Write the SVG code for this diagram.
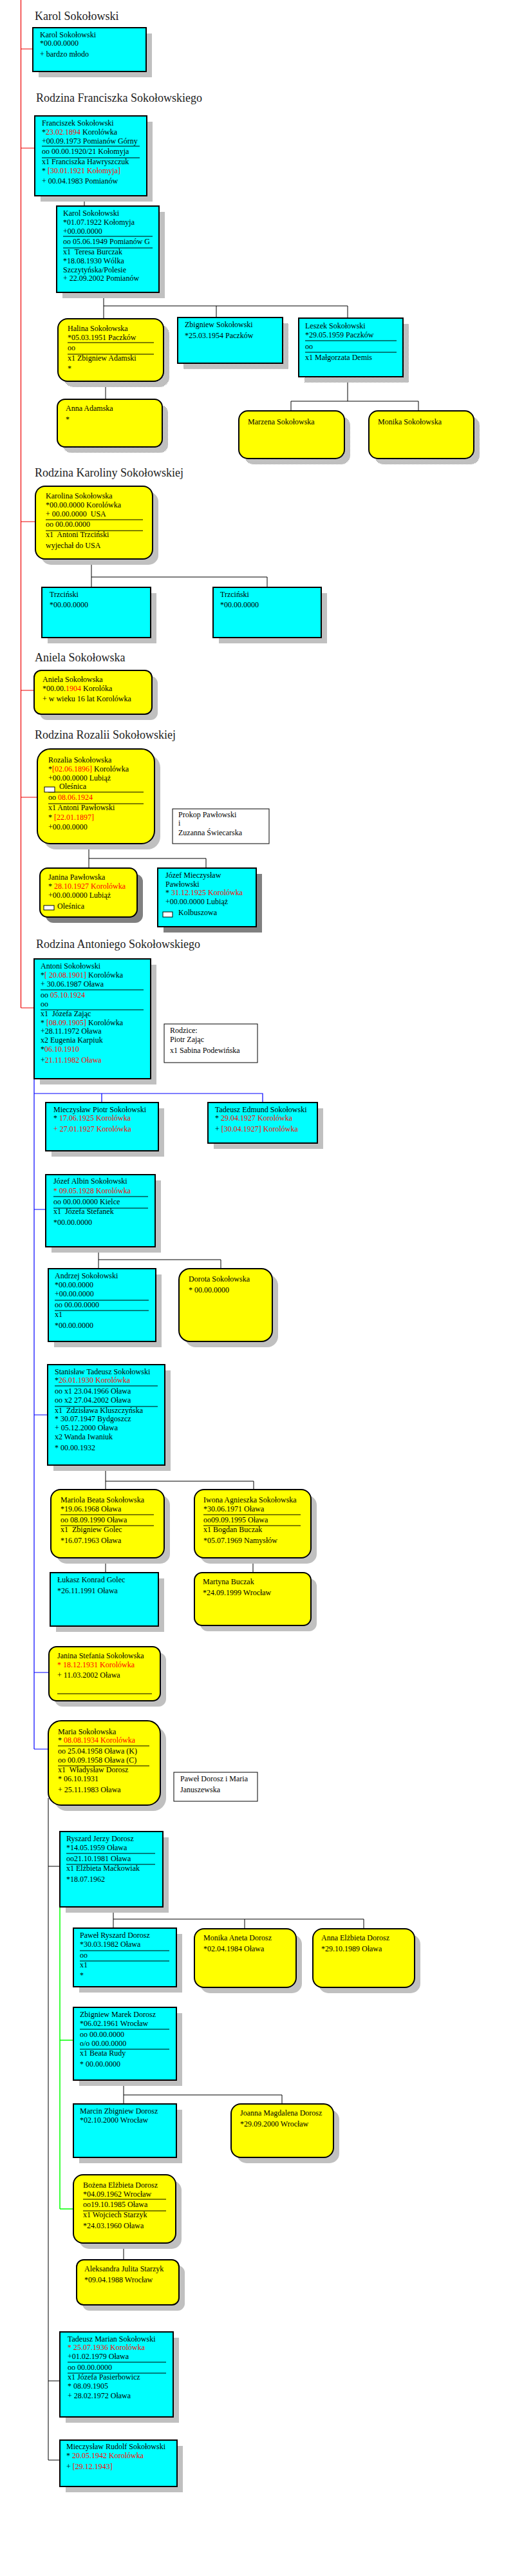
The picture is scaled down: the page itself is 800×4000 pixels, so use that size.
<svg xmlns="http://www.w3.org/2000/svg" width="800" height="4000" viewBox="0 0 800 4000">
<style>
text{font-family:"Liberation Serif","Times New Roman",serif;font-size:12px;fill:#000;white-space:pre}
.ttl{font-size:18px;fill:#222}
.r{fill:#f00}
.cy{fill:#0ff;stroke:#000;stroke-width:2}
.ye{fill:#ff0;stroke:#000;stroke-width:2}
.sh{fill:#c0c0c0}
.shd{fill:#808080}
.shp{fill:url(#dith)}
.note{fill:#fff;stroke:#000;stroke-width:1}
.sep{stroke:#000;stroke-width:1}
.ic{fill:#fff;stroke:#000;stroke-width:1}
.cb{stroke:#000;stroke-width:1;fill:none}
.cr{stroke:#e00;stroke-width:1.2;fill:none}
.cbl{stroke:#00f;stroke-width:1.2;fill:none}
.cg{stroke:#0f0;stroke-width:1.5;fill:none}
</style>
<defs>
<pattern id="dith" width="2" height="2" patternUnits="userSpaceOnUse"><rect width="2" height="2" fill="#fff"/><rect width="1" height="1" fill="#808080"/><rect x="1" y="1" width="1" height="1" fill="#808080"/></pattern>
</defs>
<rect width="800" height="4000" fill="#fff"/>

<g id="titles">
<text class="ttl" x="54" y="31">Karol Sokołowski</text>
<text class="ttl" x="56" y="158">Rodzina Franciszka Sokołowskiego</text>
<text class="ttl" x="54" y="740">Rodzina Karoliny Sokołowskiej</text>
<text class="ttl" x="54" y="1027">Aniela Sokołowska</text>
<text class="ttl" x="54" y="1147">Rodzina Rozalii Sokołowskiej</text>
<text class="ttl" x="56" y="1472">Rodzina Antoniego Sokołowskiego</text>
</g>

<g id="connectors">
<path class="cr" d="M32.5 0V1565M32.5 76H51M32.5 230H54M32.5 810H55M32.5 1072H53M32.5 1238H58M32.5 1565H53"/>
<path class="cb" d="M131 304V320M161 454V475M161 475H540M161 475V495M336 475V493M540 475V494M164 592V620M540 585V623M452 623H650M452 623V638M650 623V638"/>
<path class="cb" d="M142 868V896H415V912M142 896V912"/>
<path class="cb" d="M138 1310V1333H320V1348M138 1333V1348"/>
<path class="cbl" d="M53 1675V2716M53 1698H408V1712M158 1698V1712M53 1878H71M53 2197H74M53 2597H76M53 2716H75"/>
<path class="cb" d="M153 1936V1956H343V1970M153 1956V1970"/>
<path class="cb" d="M164 2275V2300H394V2313M164 2300V2313M164 2419V2442M393 2419V2442"/>
<path class="cb" d="M75 2792V3820M75 2898H93M75 3697H93M75 3820H93"/>
<path class="cb" d="M176 2961V2994M176 2980H565V2995M380 2980V2995"/>
<path class="cg" d="M93 2961V3430M93 3168H114M93 3430H114"/>
<path class="cb" d="M192 3230V3253H438V3267M192 3253V3267M192 3483V3509"/>
</g>

<g id="n-karol1">
<rect class="sh" x="60" y="52" width="176" height="68"/>
<rect class="cy" x="51" y="43" width="176" height="68"/>
<text x="62" y="58">Karol Sokołowski</text>
<text x="62" y="71">*00.00.0000</text>
<text x="62" y="88">+ bardzo młodo</text>
</g>

<g id="n-franciszek">
<rect class="sh" x="63" y="189" width="174" height="124"/>
<rect class="cy" x="54" y="180" width="174" height="124"/>
<path class="sep" d="M65 227H217M65 245H217"/>
<text x="65" y="195">Franciszek Sokołowski</text>
<text x="65" y="209">*<tspan class="r">23.02.1894</tspan> Korolówka</text>
<text x="65" y="223">+00.09.1973 Pomianów Górny</text>
<text x="65" y="239">oo 00.00.1920/21 Kołomyja</text>
<text x="65" y="255">x1 Franciszka Hawryszczuk</text>
<text x="65" y="269">* <tspan class="r">[30.01.1921 Kołomyja]</tspan></text>
<text x="65" y="285">+ 00.04.1983 Pomianów</text>
</g>

<g id="n-karol2">
<rect class="sh" x="97" y="329" width="159" height="134"/>
<rect class="cy" x="88" y="320" width="159" height="134"/>
<path class="sep" d="M98 367H237M98 385H237"/>
<text x="98" y="335">Karol Sokołowski</text>
<text x="98" y="349">*01.07.1922 Kołomyja</text>
<text x="98" y="363">+00.00.0000</text>
<text x="98" y="379">oo 05.06.1949 Pomianów G</text>
<text x="98" y="395">x1  Teresa Burczak</text>
<text x="98" y="409">*18.08.1930 Wólka</text>
<text x="98" y="423">Szczytyńska/Polesie</text>
<text x="98" y="436">+ 22.09.2002 Pomianów</text>
</g>

<g id="n-halina">
<rect class="shp" x="99" y="504" width="164" height="97" rx="15"/>
<rect class="ye" x="90" y="495" width="164" height="97" rx="15"/>
<path class="sep" d="M105 532H239M105 550H239"/>
<text x="105" y="514">Halina Sokołowska</text>
<text x="105" y="528">*05.03.1951 Paczków</text>
<text x="105" y="544">oo</text>
<text x="105" y="560">x1 Zbigniew Adamski</text>
<text x="105" y="576">*</text>
</g>

<g id="n-zbigniew">
<rect class="shp" x="285" y="502" width="163" height="71"/>
<rect class="cy" x="276" y="493" width="163" height="71"/>
<text x="287" y="508">Zbigniew Sokołowski</text>
<text x="287" y="525">*25.03.1954 Paczków</text>
</g>

<g id="n-leszek">
<rect class="shp" x="473" y="503" width="162" height="91"/>
<rect class="cy" x="464" y="494" width="162" height="91"/>
<path class="sep" d="M474 529H616M474 547H616"/>
<text x="474" y="510">Leszek Sokołowski</text>
<text x="474" y="524">*29.05.1959 Paczków</text>
<text x="474" y="542">oo</text>
<text x="474" y="559">x1 Małgorzata Demis</text>
</g>

<g id="n-anna-adamska">
<rect class="shp" x="98" y="629" width="163" height="74" rx="12"/>
<rect class="ye" x="89" y="620" width="163" height="74" rx="12"/>
<text x="102" y="638">Anna Adamska</text>
<text x="102" y="655">*</text>
</g>

<g id="n-marzena">
<rect class="shp" x="380" y="647" width="164" height="74" rx="14"/>
<rect class="ye" x="371" y="638" width="164" height="74" rx="14"/>
<text x="385" y="659">Marzena Sokołowska</text>
</g>

<g id="n-monika">
<rect class="shp" x="582" y="647" width="163" height="74" rx="14"/>
<rect class="ye" x="573" y="638" width="163" height="74" rx="14"/>
<text x="587" y="659">Monika Sokołowska</text>
</g>

<g id="n-karolina">
<rect class="sh" x="64" y="764" width="182" height="113" rx="15"/>
<rect class="ye" x="55" y="755" width="182" height="113" rx="15"/>
<path class="sep" d="M71 807H222M71 824H222"/>
<text x="71" y="774">Karolina Sokołowska</text>
<text x="71" y="788">*00.00.0000 Korolówka</text>
<text x="71" y="802">+ 00.00.0000  USA</text>
<text x="71" y="818">oo 00.00.0000</text>
<text x="71" y="834">x1  Antoni Trzciński</text>
<text x="71" y="851">wyjechał do USA</text>
</g>

<g id="n-trzcinski1">
<rect class="sh" x="74" y="921" width="169" height="78"/>
<rect class="cy" x="65" y="912" width="169" height="78"/>
<text x="77" y="927">Trzciński</text>
<text x="77" y="943">*00.00.0000</text>
</g>

<g id="n-trzcinski2">
<rect class="sh" x="340" y="921" width="168" height="78"/>
<rect class="cy" x="331" y="912" width="168" height="78"/>
<text x="342" y="927">Trzciński</text>
<text x="342" y="943">*00.00.0000</text>
</g>

<g id="n-aniela">
<rect class="sh" x="62" y="1050" width="183" height="68" rx="11"/>
<rect class="ye" x="53" y="1041" width="183" height="68" rx="11"/>
<text x="66" y="1059">Aniela Sokołowska</text>
<text x="66" y="1073">*00.00.<tspan class="r">1904</tspan> Korolóka</text>
<text x="66" y="1089">+ w wieku 16 lat Korolówka</text>
</g>

<g id="n-rozalia">
<rect class="sh" x="67" y="1172" width="182" height="147" rx="20"/>
<rect class="ye" x="58" y="1163" width="182" height="147" rx="20"/>
<path class="sep" d="M75 1230H223M75 1248H223"/>
<text x="75" y="1184">Rozalia Sokołowska</text>
<text x="75" y="1198">*<tspan class="r">[02.06.1896]</tspan> Korolówka</text>
<text x="75" y="1212">+00.00.0000 Lubiąż</text>
<rect class="ic" x="69" y="1222" width="16" height="8"/>
<text x="92" y="1225">Oleśnica</text>
<text x="75" y="1242">oo <tspan class="r">08.06.1924</tspan></text>
<text x="75" y="1258">x1 Antoni Pawłowski</text>
<text x="75" y="1273">* <tspan class="r">[22.01.1897]</tspan></text>
<text x="75" y="1288">+00.00.0000</text>
</g>

<g id="n-note-pawlowski">
<rect class="note" x="268" y="1256" width="150" height="54"/>
<text x="277" y="1269">Prokop Pawłowski</text>
<text x="277" y="1282">i</text>
<text x="277" y="1297">Zuzanna Świecarska</text>
</g>

<g id="n-janina-pawlowska">
<rect class="shd" x="71" y="1357" width="151" height="76" rx="12"/>
<rect class="ye" x="62" y="1348" width="151" height="76" rx="12"/>
<text x="75" y="1366">Janina Pawłowska</text>
<text x="75" y="1380">* <tspan class="r">28.10.1927 Korolówka</tspan></text>
<text x="75" y="1394">+00.00.0000 Lubiąż</text>
<rect class="ic" x="68" y="1406" width="16" height="7"/>
<text x="89" y="1411">Oleśnica</text>
</g>

<g id="n-jozef-mieczyslaw">
<rect class="shd" x="254" y="1357" width="153" height="91"/>
<rect class="cy" x="245" y="1348" width="153" height="91"/>
<text x="257" y="1363">Józef Mieczysław</text>
<text x="257" y="1377">Pawłowski</text>
<text x="257" y="1390">* <tspan class="r">31.12.1925 Korolówka</tspan></text>
<text x="257" y="1404">+00.00.0000 Lubiąż</text>
<rect class="ic" x="253" y="1416" width="15" height="8"/>
<text x="277" y="1421">Kolbuszowa</text>
</g>

<g id="n-antoni">
<rect class="sh" x="62" y="1498" width="181" height="186"/>
<rect class="cy" x="53" y="1489" width="181" height="186"/>
<path class="sep" d="M63 1537H223M63 1568H223"/>
<text x="63" y="1504">Antoni Sokołowski</text>
<text x="63" y="1518">*<tspan class="r">[ 20.08.1901]</tspan> Korolówka</text>
<text x="63" y="1532">+ 30.06.1987 Oława</text>
<text x="63" y="1549">oo <tspan class="r">05.10.1924</tspan></text>
<text x="63" y="1563">oo</text>
<text x="63" y="1578">x1  Józefa Zając</text>
<text x="63" y="1592">* <tspan class="r">[08.09.1905]</tspan> Korolówka</text>
<text x="63" y="1605">+28.11.1972 Oława</text>
<text x="63" y="1619">x2 Eugenia Karpiuk</text>
<text x="63" y="1633">*<tspan class="r">06.10.1910</tspan></text>
<text x="63" y="1650">+<tspan class="r">21.11.1982 Oława</tspan></text>
</g>

<g id="n-note-zajac">
<rect class="note" x="255" y="1590" width="145" height="60"/>
<text x="264" y="1604">Rodzice:</text>
<text x="264" y="1618">Piotr Zając</text>
<text x="264" y="1635">x1 Sabina Podewińska</text>
</g>

<g id="n-mieczyslaw-piotr">
<rect class="sh" x="80" y="1721" width="175" height="75"/>
<rect class="cy" x="71" y="1712" width="175" height="75"/>
<text x="83" y="1727">Mieczysław Piotr Sokołowski</text>
<text x="83" y="1740">* <tspan class="r">17.06.1925 Korolówka</tspan></text>
<text x="83" y="1757" class="r">+ 27.01.1927 Korolówka</text>
</g>

<g id="n-tadeusz-edmund">
<rect class="sh" x="332" y="1721" width="170" height="63"/>
<rect class="cy" x="323" y="1712" width="170" height="63"/>
<text x="334" y="1727">Tadeusz Edmund Sokołowski</text>
<text x="334" y="1740">* <tspan class="r">29.04.1927 Korolówka</tspan></text>
<text x="334" y="1757">+ <tspan class="r">[30.04.1927] Korolówka</tspan></text>
</g>

<g id="n-jozef-albin">
<rect class="sh" x="80" y="1833" width="170" height="112"/>
<rect class="cy" x="71" y="1824" width="170" height="112"/>
<path class="sep" d="M83 1858H230M83 1876H230"/>
<text x="83" y="1838">Józef Albin Sokołowski</text>
<text x="83" y="1853" class="r">* 09.05.1928 Korolówka</text>
<text x="83" y="1870">oo 00.00.0000 Kielce</text>
<text x="83" y="1885">x1  Józefa Stefanek</text>
<text x="83" y="1902">*00.00.0000</text>
</g>

<g id="n-andrzej">
<rect class="sh" x="84" y="1979" width="167" height="113"/>
<rect class="cy" x="75" y="1970" width="167" height="113"/>
<path class="sep" d="M85 2019H231M85 2035H231"/>
<text x="85" y="1985">Andrzej Sokołowski</text>
<text x="85" y="1999">*00.00.0000</text>
<text x="85" y="2013">+00.00.0000</text>
<text x="85" y="2030">oo 00.00.0000</text>
<text x="85" y="2045">x1</text>
<text x="85" y="2062">*00.00.0000</text>
</g>

<g id="n-dorota">
<rect class="sh" x="287" y="1979" width="145" height="113" rx="17"/>
<rect class="ye" x="278" y="1970" width="145" height="113" rx="17"/>
<text x="293" y="1990">Dorota Sokołowska</text>
<text x="293" y="2007">* 00.00.0000</text>
</g>

<g id="n-stanislaw">
<rect class="sh" x="83" y="2128" width="182" height="156"/>
<rect class="cy" x="74" y="2119" width="182" height="156"/>
<path class="sep" d="M85 2152H245M85 2184H245"/>
<text x="85" y="2134">Stanisław Tadeusz Sokołowski</text>
<text x="85" y="2147">*<tspan class="r">26.01.1930 Korolówka</tspan></text>
<text x="85" y="2164">oo x1 23.04.1966 Oława</text>
<text x="85" y="2178">oo x2 27.04.2002 Oława</text>
<text x="85" y="2194">x1  Zdzisława Kluszczyńska</text>
<text x="85" y="2207">* 30.07.1947 Bydgoszcz</text>
<text x="85" y="2221">+ 05.12.2000 Oława</text>
<text x="85" y="2235">x2 Wanda Iwaniuk</text>
<text x="85" y="2252">* 00.00.1932</text>
</g>

<g id="n-mariola">
<rect class="sh" x="88" y="2322" width="176" height="106" rx="15"/>
<rect class="ye" x="79" y="2313" width="176" height="106" rx="15"/>
<path class="sep" d="M94 2352H239M94 2369H239"/>
<text x="94" y="2333">Mariola Beata Sokołowska</text>
<text x="94" y="2347">*19.06.1968 Oława</text>
<text x="94" y="2364">oo 08.09.1990 Oława</text>
<text x="94" y="2379">x1  Zbigniew Golec</text>
<text x="94" y="2396">*16.07.1963 Oława</text>
</g>

<g id="n-iwona">
<rect class="sh" x="311" y="2322" width="181" height="106" rx="15"/>
<rect class="ye" x="302" y="2313" width="181" height="106" rx="15"/>
<path class="sep" d="M316 2352H467M316 2369H467"/>
<text x="316" y="2333">Iwona Agnieszka Sokołowska</text>
<text x="316" y="2347">*30.06.1971 Oława</text>
<text x="316" y="2364">oo09.09.1995 Oława</text>
<text x="316" y="2379">x1 Bogdan Buczak</text>
<text x="316" y="2396">*05.07.1969 Namysłów</text>
</g>

<g id="n-lukasz">
<rect class="sh" x="87" y="2451" width="168" height="83"/>
<rect class="cy" x="78" y="2442" width="168" height="83"/>
<text x="89" y="2457">Łukasz Konrad Golec</text>
<text x="89" y="2474">*26.11.1991 Oława</text>
</g>

<g id="n-martyna">
<rect class="sh" x="311" y="2451" width="181" height="82" rx="12"/>
<rect class="ye" x="302" y="2442" width="181" height="82" rx="12"/>
<text x="315" y="2460">Martyna Buczak</text>
<text x="315" y="2477">*24.09.1999 Wrocław</text>
</g>

<g id="n-janina-stefania">
<rect class="sh" x="85" y="2566" width="173" height="84" rx="12"/>
<rect class="ye" x="76" y="2557" width="173" height="84" rx="12"/>
<path class="sep" d="M89 2630H236"/>
<text x="89" y="2575">Janina Stefania Sokołowska</text>
<text x="89" y="2589" class="r">* 18.12.1931 Korolówka</text>
<text x="89" y="2605">+ 11.03.2002 Oława</text>
</g>

<g id="n-maria">
<rect class="sh" x="84" y="2681" width="174" height="131" rx="20"/>
<rect class="ye" x="75" y="2672" width="174" height="131" rx="20"/>
<path class="sep" d="M90 2711H232M90 2742H232"/>
<text x="90" y="2693">Maria Sokołowska</text>
<text x="90" y="2706">* <tspan class="r">08.08.1934 Korolówka</tspan></text>
<text x="90" y="2723">oo 25.04.1958 Oława (K)</text>
<text x="90" y="2737">oo 00.09.1958 Oława (C)</text>
<text x="90" y="2752">x1  Władysław Dorosz</text>
<text x="90" y="2766">* 06.10.1931</text>
<text x="90" y="2783">+ 25.11.1983 Oława</text>
</g>

<g id="n-note-dorosz">
<rect class="note" x="270" y="2752" width="130" height="45"/>
<text x="280" y="2766">Paweł Dorosz i Maria</text>
<text x="280" y="2783">Januszewska</text>
</g>

<g id="n-ryszard">
<rect class="sh" x="102" y="2853" width="160" height="117"/>
<rect class="cy" x="93" y="2844" width="160" height="117"/>
<path class="sep" d="M103 2878H241M103 2895H241"/>
<text x="103" y="2859">Ryszard Jerzy Dorosz</text>
<text x="103" y="2873">*14.05.1959 Oława</text>
<text x="103" y="2890">oo21.10.1981 Oława</text>
<text x="103" y="2905">x1 Elżbieta Maćkowiak</text>
<text x="103" y="2922">*18.07.1962</text>
</g>

<g id="n-pawel">
<rect class="sh" x="123" y="3003" width="160" height="91"/>
<rect class="cy" x="114" y="2994" width="160" height="91"/>
<path class="sep" d="M124 3029H263M124 3045H263"/>
<text x="124" y="3009">Paweł Ryszard Dorosz</text>
<text x="124" y="3023">*30.03.1982 Oława</text>
<text x="124" y="3040">oo</text>
<text x="124" y="3055">x1</text>
<text x="124" y="3071">*</text>
</g>

<g id="n-monika-aneta">
<rect class="sh" x="311" y="3004" width="158" height="91" rx="15"/>
<rect class="ye" x="302" y="2995" width="158" height="91" rx="15"/>
<text x="316" y="3013">Monika Aneta Dorosz</text>
<text x="316" y="3030">*02.04.1984 Oława</text>
</g>

<g id="n-anna-elzbieta">
<rect class="sh" x="495" y="3004" width="158" height="91" rx="15"/>
<rect class="ye" x="486" y="2995" width="158" height="91" rx="15"/>
<text x="499" y="3013">Anna Elżbieta Dorosz</text>
<text x="499" y="3030">*29.10.1989 Oława</text>
</g>

<g id="n-zbigniew-marek">
<rect class="sh" x="123" y="3126" width="160" height="113"/>
<rect class="cy" x="114" y="3117" width="160" height="113"/>
<path class="sep" d="M124 3151H263M124 3182H263"/>
<text x="124" y="3132">Zbigniew Marek Dorosz</text>
<text x="124" y="3146">*06.02.1961 Wrocław</text>
<text x="124" y="3163">oo 00.00.0000</text>
<text x="124" y="3177">o/o 00.00.0000</text>
<text x="124" y="3192">x1 Beata Rudy</text>
<text x="124" y="3209">* 00.00.0000</text>
</g>

<g id="n-marcin">
<rect class="sh" x="123" y="3276" width="160" height="83"/>
<rect class="cy" x="114" y="3267" width="160" height="83"/>
<text x="124" y="3282">Marcin Zbigniew Dorosz</text>
<text x="124" y="3296">*02.10.2000 Wrocław</text>
</g>

<g id="n-joanna">
<rect class="sh" x="368" y="3276" width="159" height="83" rx="15"/>
<rect class="ye" x="359" y="3267" width="159" height="83" rx="15"/>
<text x="373" y="3285">Joanna Magdalena Dorosz</text>
<text x="373" y="3302">*29.09.2000 Wrocław</text>
</g>

<g id="n-bozena">
<rect class="sh" x="123" y="3386" width="159" height="106" rx="15"/>
<rect class="ye" x="114" y="3377" width="159" height="106" rx="15"/>
<path class="sep" d="M129 3415H258M129 3433H258"/>
<text x="129" y="3397">Bożena Elżbieta Dorosz</text>
<text x="129" y="3411">*04.09.1962 Wrocław</text>
<text x="129" y="3427">oo19.10.1985 Oława</text>
<text x="129" y="3443">x1 Wojciech Starzyk</text>
<text x="129" y="3460">*24.03.1960 Oława</text>
</g>

<g id="n-aleksandra">
<rect class="sh" x="128" y="3518" width="159" height="70" rx="11"/>
<rect class="ye" x="119" y="3509" width="159" height="70" rx="11"/>
<text x="131" y="3527">Aleksandra Julita Starzyk</text>
<text x="131" y="3544">*09.04.1988 Wrocław</text>
</g>

<g id="n-tadeusz-marian">
<rect class="sh" x="102" y="3630" width="176" height="132"/>
<rect class="cy" x="93" y="3621" width="176" height="132"/>
<path class="sep" d="M105 3668H258M105 3685H258"/>
<text x="105" y="3636">Tadeusz Marian Sokołowski</text>
<text x="105" y="3649" class="r">* 25.07.1936 Korolówka</text>
<text x="105" y="3663">+01.02.1979 Oława</text>
<text x="105" y="3680">oo 00.00.0000</text>
<text x="105" y="3695">x1 Józefa Pasierbowicz</text>
<text x="105" y="3709">* 08.09.1905</text>
<text x="105" y="3724">+ 28.02.1972 Oława</text>
</g>

<g id="n-mieczyslaw-rudolf">
<rect class="sh" x="102" y="3798" width="182" height="72"/>
<rect class="cy" x="93" y="3789" width="182" height="72"/>
<text x="103" y="3803">Mieczysław Rudolf Sokołowski</text>
<text x="103" y="3817">* <tspan class="r">20.05.1942 Korolówka</tspan></text>
<text x="103" y="3834">+ <tspan class="r">[29.12.1943]</tspan></text>
</g>
</svg>
